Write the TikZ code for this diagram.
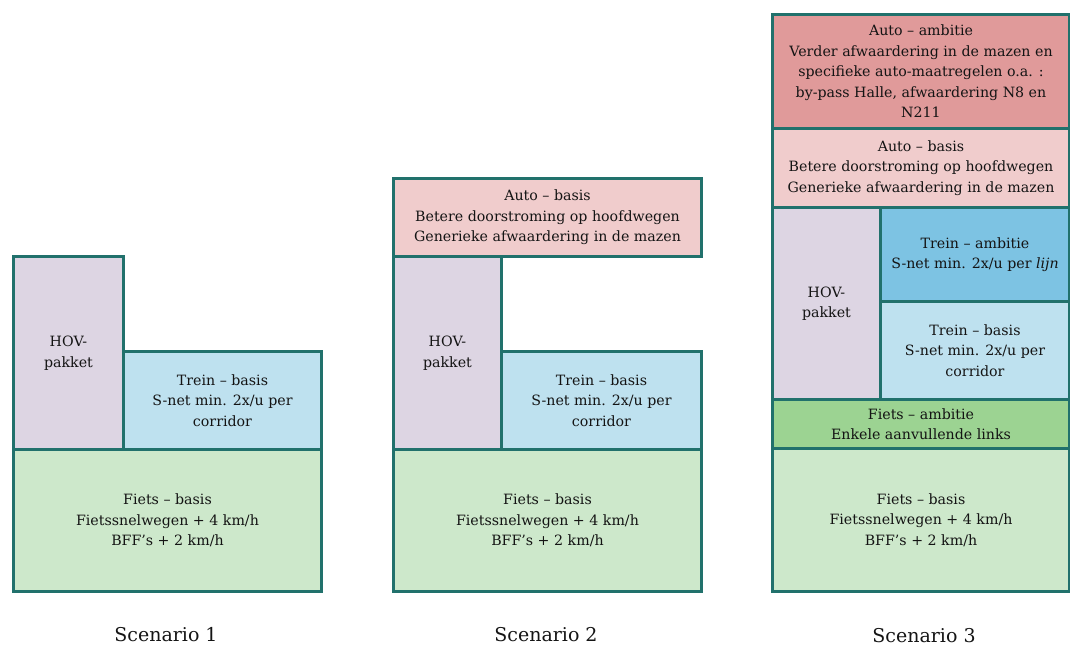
\documentclass[tikz,border=0pt]{standalone}
\usepackage{fontspec}
\setmainfont{DejaVu Serif}
\definecolor{edge}{HTML}{21716C}
\definecolor{txt}{HTML}{141414}
\definecolor{hovc}{HTML}{DDD5E3}
\definecolor{treinb}{HTML}{BEE1EF}
\definecolor{treina}{HTML}{7DC3E3}
\definecolor{fietsb}{HTML}{CDE8CB}
\definecolor{fietsa}{HTML}{9CD392}
\definecolor{autob}{HTML}{F0CCCC}
\definecolor{autoa}{HTML}{E09A9A}
\tikzset{
  blk/.style={draw=edge, line width=3pt, anchor=north west, inner sep=1pt, align=center,
    font=\fontsize{14.2}{20.5}\selectfont, text=txt},
  lbl/.style={font=\fontsize{19}{22}\selectfont, text=txt, inner sep=0pt}
}
\begin{document}
\begin{tikzpicture}[x=1pt,y=-1pt]
\useasboundingbox (0,0) rectangle (1070,646);
% Scenario 1
\node[blk, fill=hovc, minimum width=110pt, minimum height=193pt] (hov1) at (12,255) {HOV-\\pakket};
\node[blk, fill=treinb, minimum width=198pt, minimum height=98pt] (trb1) at (122,350) {Trein – basis\\S-net min. 2x/u per\\corridor};
\node[blk, fill=fietsb, minimum width=308pt, minimum height=142pt] (fb1) at (12,448) {Fiets – basis\\Fietssnelwegen + 4 km/h\\BFF’s + 2 km/h};
% Scenario 2
\node[blk, fill=autob, minimum width=308pt, minimum height=78pt] (ab2) at (392,177) {Auto – basis\\Betere doorstroming op hoofdwegen\\Generieke afwaardering in de mazen};
\node[blk, fill=hovc, minimum width=108pt, minimum height=193pt] (hov2) at (392,255) {HOV-\\pakket};
\node[blk, fill=treinb, minimum width=200pt, minimum height=98pt] (trb2) at (500,350) {Trein – basis\\S-net min. 2x/u per\\corridor};
\node[blk, fill=fietsb, minimum width=308pt, minimum height=142pt] (fb2) at (392,448) {Fiets – basis\\Fietssnelwegen + 4 km/h\\BFF’s + 2 km/h};
% Scenario 3
\node[blk, fill=autoa, minimum width=297pt, minimum height=114pt] (aa3) at (771,13) {Auto – ambitie\\Verder afwaardering in de mazen en\\specifieke auto-maatregelen o.a. :\\by-pass Halle, afwaardering N8 en\\N211};
\node[blk, fill=autob, minimum width=297pt, minimum height=79pt] (ab3) at (771,127) {Auto – basis\\Betere doorstroming op hoofdwegen\\Generieke afwaardering in de mazen};
\node[blk, fill=hovc, minimum width=108pt, minimum height=192pt] (hov3) at (771,206) {HOV-\\pakket};
\node[blk, fill=treina, minimum width=189pt, minimum height=94pt] (tra3) at (879,206) {Trein – ambitie\\S-net min. 2x/u per \textit{lijn}};
\node[blk, fill=treinb, minimum width=189pt, minimum height=98pt] (trb3) at (879,300) {Trein – basis\\S-net min. 2x/u per\\corridor};
\node[blk, fill=fietsa, minimum width=297pt, minimum height=49pt] (fa3) at (771,398) {Fiets – ambitie\\Enkele aanvullende links};
\node[blk, fill=fietsb, minimum width=297pt, minimum height=143pt] (fb3) at (771,447) {Fiets – basis\\Fietssnelwegen + 4 km/h\\BFF’s + 2 km/h};
% Labels
\node[lbl] (l1) at (166,635) {Scenario 1};
\node[lbl] (l2) at (546,635) {Scenario 2};
\node[lbl] (l3) at (924,636) {Scenario 3};
\end{tikzpicture}
\end{document}
